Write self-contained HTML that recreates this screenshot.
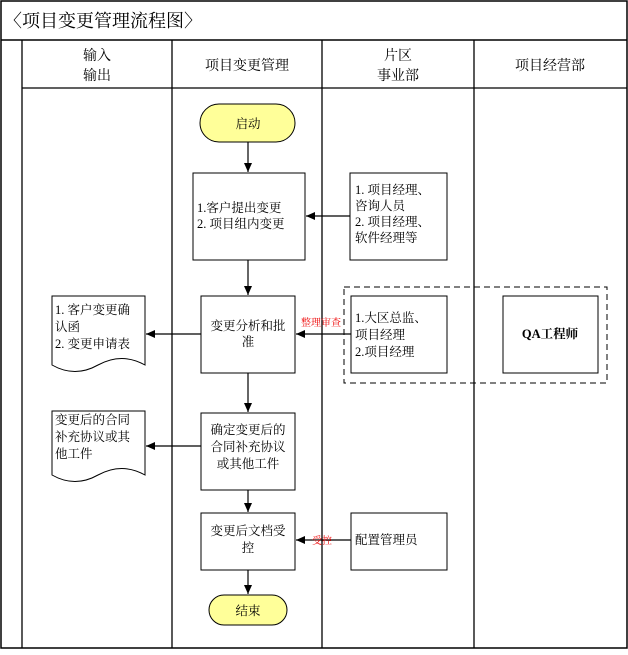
<!DOCTYPE html>
<html><head><meta charset="utf-8"><style>
body{margin:0;background:#fff}
svg text{font-family:"Liberation Serif","Noto Serif CJK SC",serif;font-size:12.5px;fill:#000}
</style></head><body>
<svg width="628" height="650" viewBox="0 0 628 650" xmlns="http://www.w3.org/2000/svg">
<defs><marker id="a" markerWidth="10" markerHeight="10" refX="9" refY="5" orient="auto" markerUnits="userSpaceOnUse"><path d="M0,1 L9,5 L0,9 Z" fill="#000"/></marker></defs>
<rect x="1" y="1" width="626" height="647" fill="none" stroke="#000" stroke-width="1.5"/>
<line x1="1" y1="40" x2="627" y2="40" stroke="#000" stroke-width="1.5"/>
<text x="4" y="27" style="font-size:18px">〈项目变更管理流程图〉</text>
<g stroke="#000" stroke-width="1.3" fill="none">
<line x1="22" y1="40" x2="22" y2="648"/>
<line x1="172" y1="40" x2="172" y2="648"/>
<line x1="322" y1="40" x2="322" y2="648"/>
<line x1="474" y1="40" x2="474" y2="648"/>
<line x1="22" y1="88" x2="627" y2="88"/>
</g>
<g text-anchor="middle" style="font-size:14px">
<text x="97" y="60" style="font-size:14px">输入</text><text x="97" y="80" style="font-size:14px">输出</text>
<text x="247" y="70" style="font-size:14px">项目变更管理</text>
<text x="398" y="60" style="font-size:14px">片区</text><text x="398" y="80" style="font-size:14px">事业部</text>
<text x="550" y="70" style="font-size:14px">项目经营部</text>
</g>
<g stroke="#000" stroke-width="1" fill="#fff">
<rect x="200" y="104" width="95" height="38" rx="19" fill="#ffff99"/>
<rect x="193" y="173" width="112" height="87"/>
<rect x="350" y="173" width="97" height="87"/>
<rect x="344" y="287" width="263" height="96" fill="none" stroke-dasharray="6,4"/>
<rect x="201" y="296" width="94" height="77"/>
<rect x="351" y="296" width="96" height="77"/>
<rect x="503" y="296" width="95" height="77"/>
<path d="M52,296 H145 V365 Q122,352 98,365 Q75,378 52,365 Z"/>
<path d="M52,411 H145 V475 Q122,462 98,475 Q75,488 52,475 Z"/>
<rect x="201" y="413" width="94" height="77"/>
<rect x="201" y="513" width="94" height="57"/>
<rect x="351" y="513" width="96" height="57"/>
<rect x="209" y="595" width="78" height="30" rx="15" fill="#ffff99"/>
</g>
<g stroke="#000" stroke-width="1.2" fill="none" marker-end="url(#a)">
<line x1="248" y1="142" x2="248" y2="172"/>
<line x1="248" y1="260" x2="248" y2="295"/>
<line x1="248" y1="373" x2="248" y2="412"/>
<line x1="248" y1="490" x2="248" y2="512"/>
<line x1="248" y1="570" x2="248" y2="594"/>
<line x1="350" y1="216" x2="306" y2="216"/>
<line x1="351" y1="334" x2="296" y2="334"/>
<line x1="201" y1="334" x2="146" y2="334"/>
<line x1="201" y1="446" x2="146" y2="446"/>
<line x1="351" y1="540" x2="296" y2="540"/>
</g>
<text x="248" y="128" text-anchor="middle">启动</text>
<text x="197" y="212">1.客户提出变更</text><text x="197" y="228">2. 项目组内变更</text>
<text x="355" y="194">1. 项目经理、</text><text x="355" y="210">咨询人员</text><text x="355" y="226">2. 项目经理、</text><text x="355" y="242">软件经理等</text>
<text x="248" y="330" text-anchor="middle">变更分析和批</text><text x="248" y="346" text-anchor="middle">准</text>
<text x="301" y="326" style="font-size:10px;fill:#e00">整理审查</text>
<text x="355" y="322">1.大区总监、</text><text x="355" y="339">项目经理</text><text x="355" y="356">2.项目经理</text>
<text x="550" y="338" text-anchor="middle" style="font-weight:bold">QA工程师</text>
<text x="55" y="314">1. 客户变更确</text><text x="55" y="331">认函</text><text x="55" y="348">2. 变更申请表</text>
<text x="55" y="424">变更后的合同</text><text x="55" y="441">补充协议或其</text><text x="55" y="458">他工件</text>
<text x="248" y="434" text-anchor="middle">确定变更后的</text><text x="248" y="451" text-anchor="middle">合同补充协议</text><text x="248" y="468" text-anchor="middle">或其他工件</text>
<text x="248" y="535" text-anchor="middle">变更后文档受</text><text x="248" y="552" text-anchor="middle">控</text>
<text x="312" y="544" style="font-size:10px;fill:#e00">受控</text>
<text x="355" y="544">配置管理员</text>
<text x="248" y="615" text-anchor="middle">结束</text>
</svg>
</body></html>
